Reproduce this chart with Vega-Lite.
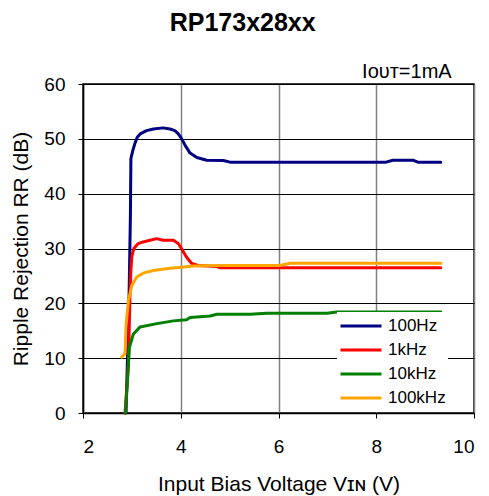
{
  "$schema": "https://vega.github.io/schema/vega-lite/v6.json",
  "autosize": "none",
  "width": 391,
  "height": 329,
  "padding": {"left": 83, "top": 84, "right": 15, "bottom": 83},
  "background": "white",
  "config": {
    "font": "Liberation Sans",
    "view": {"stroke": "black", "strokeWidth": 1.5},
    "axis": {"labelColor": "black", "titleColor": "black", "domainColor": "black", "tickColor": "black", "labelFontWeight": "normal", "titleFontWeight": "normal"}
  },
  "title": {"text": "RP173x28xx", "fontSize": 25, "fontWeight": "bold", "color": "black", "anchor": "middle", "frame": "bounds", "baseline": "alphabetic", "offset": 27, "dy": 21},
  "data": {"values": [
    {"v": 2.88, "rr": 0, "f": "100Hz"},
    {"v": 2.94, "rr": 20, "f": "100Hz"},
    {"v": 2.97, "rr": 36, "f": "100Hz"},
    {"v": 2.98, "rr": 46.4, "f": "100Hz"},
    {"v": 3.02, "rr": 47.9, "f": "100Hz"},
    {"v": 3.06, "rr": 49.1, "f": "100Hz"},
    {"v": 3.11, "rr": 50.3, "f": "100Hz"},
    {"v": 3.17, "rr": 50.9, "f": "100Hz"},
    {"v": 3.30, "rr": 51.5, "f": "100Hz"},
    {"v": 3.44, "rr": 51.8, "f": "100Hz"},
    {"v": 3.64, "rr": 52.0, "f": "100Hz"},
    {"v": 3.78, "rr": 51.8, "f": "100Hz"},
    {"v": 3.88, "rr": 51.5, "f": "100Hz"},
    {"v": 3.95, "rr": 50.9, "f": "100Hz"},
    {"v": 4.02, "rr": 50.0, "f": "100Hz"},
    {"v": 4.09, "rr": 48.8, "f": "100Hz"},
    {"v": 4.19, "rr": 47.4, "f": "100Hz"},
    {"v": 4.33, "rr": 46.6, "f": "100Hz"},
    {"v": 4.53, "rr": 46.1, "f": "100Hz"},
    {"v": 4.87, "rr": 46.05, "f": "100Hz"},
    {"v": 5.01, "rr": 45.75, "f": "100Hz"},
    {"v": 6.0, "rr": 45.75, "f": "100Hz"},
    {"v": 7.0, "rr": 45.75, "f": "100Hz"},
    {"v": 8.2, "rr": 45.75, "f": "100Hz"},
    {"v": 8.34, "rr": 46.1, "f": "100Hz"},
    {"v": 8.75, "rr": 46.1, "f": "100Hz"},
    {"v": 8.85, "rr": 45.75, "f": "100Hz"},
    {"v": 9.32, "rr": 45.75, "f": "100Hz"},
    {"v": 2.86, "rr": 0, "f": "1kHz"},
    {"v": 2.93, "rr": 9, "f": "1kHz"},
    {"v": 2.96, "rr": 21.1, "f": "1kHz"},
    {"v": 2.98, "rr": 26, "f": "1kHz"},
    {"v": 3.00, "rr": 28.6, "f": "1kHz"},
    {"v": 3.04, "rr": 30.0, "f": "1kHz"},
    {"v": 3.13, "rr": 30.9, "f": "1kHz"},
    {"v": 3.23, "rr": 31.2, "f": "1kHz"},
    {"v": 3.37, "rr": 31.5, "f": "1kHz"},
    {"v": 3.51, "rr": 31.8, "f": "1kHz"},
    {"v": 3.64, "rr": 31.5, "f": "1kHz"},
    {"v": 3.85, "rr": 31.5, "f": "1kHz"},
    {"v": 3.95, "rr": 30.9, "f": "1kHz"},
    {"v": 4.02, "rr": 29.9, "f": "1kHz"},
    {"v": 4.12, "rr": 28.4, "f": "1kHz"},
    {"v": 4.22, "rr": 27.3, "f": "1kHz"},
    {"v": 4.36, "rr": 26.9, "f": "1kHz"},
    {"v": 4.74, "rr": 26.7, "f": "1kHz"},
    {"v": 4.80, "rr": 26.5, "f": "1kHz"},
    {"v": 7.0, "rr": 26.5, "f": "1kHz"},
    {"v": 9.32, "rr": 26.5, "f": "1kHz"},
    {"v": 2.87, "rr": 0, "f": "10kHz"},
    {"v": 2.91, "rr": 5.9, "f": "10kHz"},
    {"v": 2.95, "rr": 12, "f": "10kHz"},
    {"v": 3.03, "rr": 14.4, "f": "10kHz"},
    {"v": 3.17, "rr": 15.7, "f": "10kHz"},
    {"v": 3.51, "rr": 16.3, "f": "10kHz"},
    {"v": 3.85, "rr": 16.8, "f": "10kHz"},
    {"v": 4.12, "rr": 17.0, "f": "10kHz"},
    {"v": 4.19, "rr": 17.4, "f": "10kHz"},
    {"v": 4.60, "rr": 17.7, "f": "10kHz"},
    {"v": 4.74, "rr": 18.0, "f": "10kHz"},
    {"v": 5.42, "rr": 18.0, "f": "10kHz"},
    {"v": 5.76, "rr": 18.2, "f": "10kHz"},
    {"v": 6.99, "rr": 18.2, "f": "10kHz"},
    {"v": 7.19, "rr": 18.4, "f": "10kHz"},
    {"v": 9.32, "rr": 18.4, "f": "10kHz"},
    {"v": 2.79, "rr": 10.2, "f": "100kHz"},
    {"v": 2.86, "rr": 10.8, "f": "100kHz"},
    {"v": 2.88, "rr": 15.7, "f": "100kHz"},
    {"v": 2.89, "rr": 16.9, "f": "100kHz"},
    {"v": 2.93, "rr": 20.5, "f": "100kHz"},
    {"v": 3.00, "rr": 23.3, "f": "100kHz"},
    {"v": 3.10, "rr": 24.8, "f": "100kHz"},
    {"v": 3.23, "rr": 25.5, "f": "100kHz"},
    {"v": 3.44, "rr": 26.0, "f": "100kHz"},
    {"v": 3.78, "rr": 26.4, "f": "100kHz"},
    {"v": 4.02, "rr": 26.6, "f": "100kHz"},
    {"v": 4.26, "rr": 26.8, "f": "100kHz"},
    {"v": 4.80, "rr": 26.9, "f": "100kHz"},
    {"v": 6.03, "rr": 26.9, "f": "100kHz"},
    {"v": 6.24, "rr": 27.3, "f": "100kHz"},
    {"v": 9.32, "rr": 27.3, "f": "100kHz"}
  ]},
  "layer": [
    {
      "mark": {"type": "line", "strokeWidth": 3, "strokeJoin": "round", "strokeCap": "round"},
      "encoding": {
        "x": {"field": "v", "type": "quantitative", "scale": {"domain": [2, 10], "nice": false},
          "axis": {"values": [2, 4, 6, 8, 10], "title": "Input Bias Voltage Vɪɴ (V)", "titleFontSize": 21, "titlePadding": 17, "labelFontSize": 19, "labelPadding": 19, "tickSize": 5, "grid": true, "gridColor": "#808080", "gridWidth": 1.5, "gridOpacity": 1, "domainWidth": 1.5}},
        "y": {"field": "rr", "type": "quantitative", "scale": {"domain": [0, 60], "nice": false},
          "axis": {"values": [0, 10, 20, 30, 40, 50, 60], "title": "Ripple Rejection RR (dB)", "titleFontSize": 21, "titlePadding": 12, "labelFontSize": 19, "labelPadding": 13, "tickSize": 5, "grid": true, "gridColor": "black", "gridWidth": 1, "gridOpacity": 1, "domainWidth": 1.5}},
        "color": {"field": "f", "type": "nominal", "sort": ["100Hz", "1kHz", "10kHz", "100kHz"],
          "scale": {"domain": ["100Hz", "1kHz", "10kHz", "100kHz"], "range": ["#000080", "#ff0000", "#008000", "#ffa500"]},
          "legend": {"title": null, "orient": "none", "legendX": 254, "legendY": 228, "symbolType": "stroke", "symbolSize": 1681, "symbolStrokeWidth": 3, "clipHeight": 24, "rowPadding": 0, "labelFontSize": 17, "labelOffset": 5, "labelColor": "black", "fillColor": "white", "padding": 2}}
      }
    },
    {
      "data": {"values": [{}]},
      "mark": {"type": "text", "align": "left", "baseline": "alphabetic", "dy": -6, "fontSize": 20, "fontWeight": "normal", "color": "black"},
      "encoding": {"x": {"datum": 7.71}, "y": {"datum": 60}, "text": {"value": "Iᴏᴜᴛ=1mA"}}
    }
  ]
}
